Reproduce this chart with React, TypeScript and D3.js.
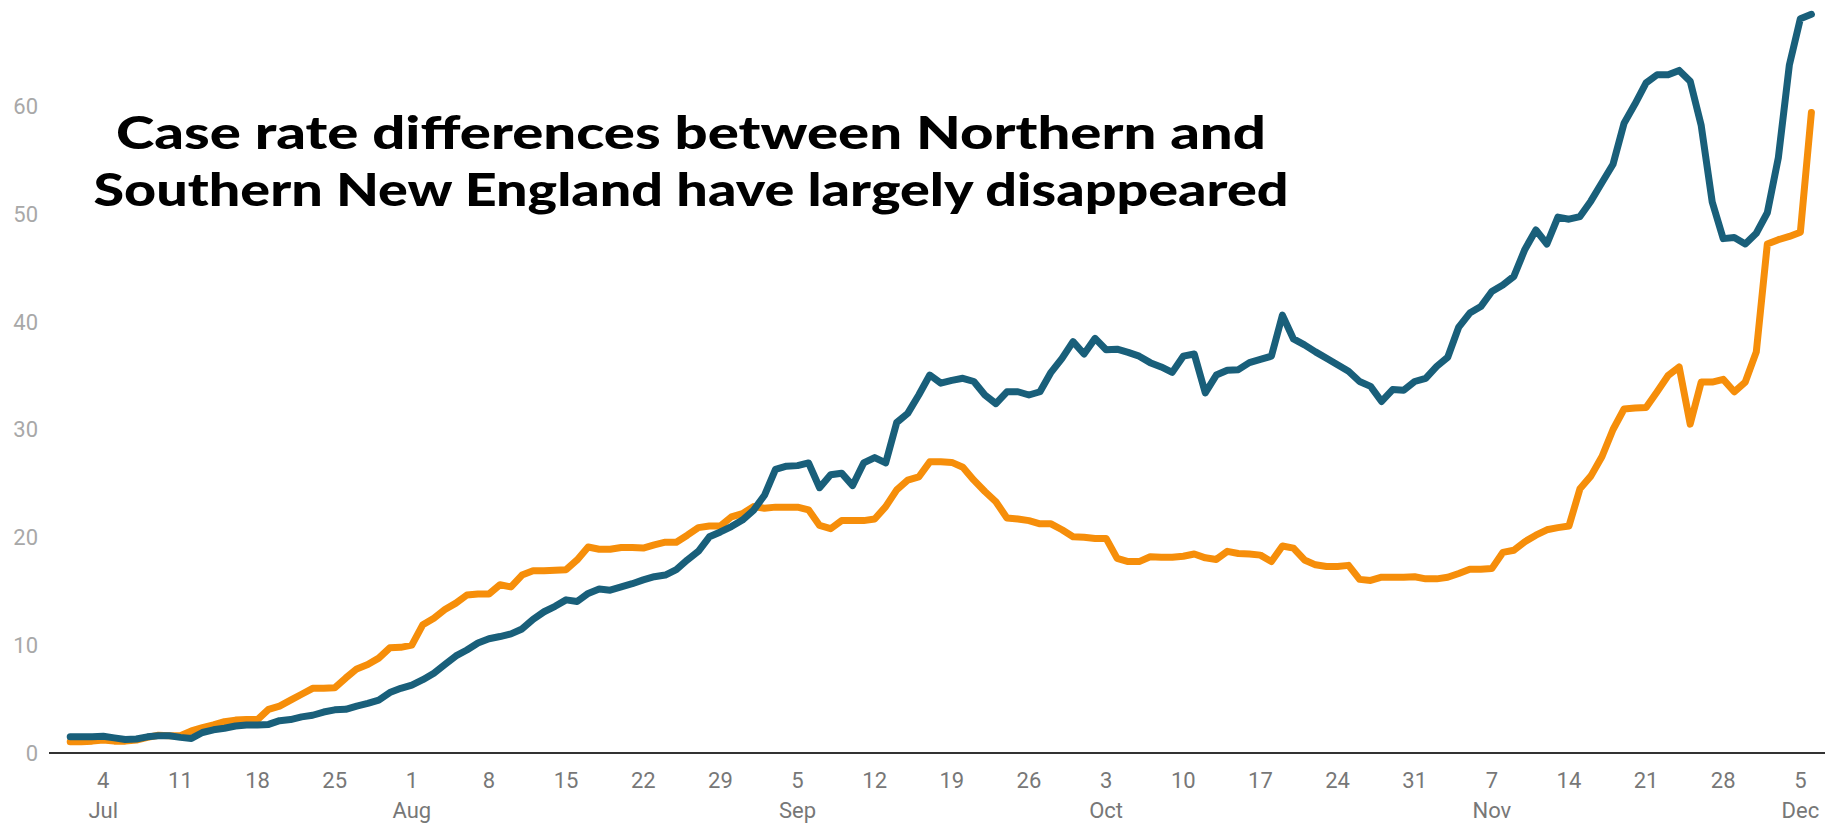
import React from 'react';
import * as d3 from 'd3';

const DAY_MS = 86400000;
const startDate = Date.UTC(2020, 6, 1);
const endDate = Date.UTC(2020, 11, 6);

// Daily values, Jul 1 – Dec 6 2020
const blueValues = [
  1.5, 1.5, 1.5, 1.55, 1.4, 1.25, 1.3, 1.5, 1.6, 1.6,
  1.45, 1.35, 1.9, 2.15, 2.3, 2.5, 2.6, 2.6, 2.65, 3.0,
  3.1, 3.35, 3.5, 3.8, 4.0, 4.05, 4.35, 4.6, 4.9, 5.6,
  6.0, 6.3, 6.8, 7.4, 8.2, 9.0, 9.55, 10.2, 10.6, 10.8,
  11.05, 11.5, 12.4, 13.1, 13.6, 14.2, 14.05, 14.8, 15.2, 15.1,
  15.4, 15.7, 16.05, 16.35, 16.5, 17.0, 17.9, 18.7, 20.05, 20.5,
  21.0, 21.6, 22.5, 23.9, 26.3, 26.6, 26.65, 26.9, 24.6, 25.8,
  25.95, 24.8, 26.9, 27.4, 26.9, 30.65, 31.5, 33.2, 35.05, 34.3,
  34.55, 34.75, 34.45, 33.2, 32.4, 33.5, 33.5, 33.2, 33.5, 35.3,
  36.6, 38.15, 37.0, 38.45, 37.4, 37.45, 37.15, 36.8, 36.2, 35.8,
  35.3, 36.8, 37.0, 33.4, 35.05, 35.5, 35.55, 36.2, 36.5, 36.8,
  40.6, 38.4, 37.85, 37.2, 36.6, 36.0, 35.4, 34.45, 34.0, 32.6,
  33.7, 33.65, 34.45, 34.75, 35.85, 36.7, 39.5, 40.8, 41.4, 42.8,
  43.4, 44.2, 46.7, 48.5, 47.2, 49.7, 49.5, 49.75, 51.2, 52.9,
  54.6, 58.4, 60.2, 62.15, 62.9, 62.9, 63.3, 62.3, 58.2, 51.1,
  47.7, 47.8, 47.2, 48.2, 50.1, 55.2, 63.8, 68.1, 68.5,
];

const orangeValues = [
  1.05, 1.05, 1.1, 1.2, 1.1, 1.1, 1.2, 1.45, 1.65, 1.6,
  1.6, 2.05, 2.35, 2.6, 2.9, 3.05, 3.1, 3.1, 4.05, 4.35,
  4.9, 5.45, 6.0, 6.0, 6.05, 6.95, 7.8, 8.2, 8.8, 9.75,
  9.8, 10.0, 11.9, 12.5, 13.3, 13.9, 14.65, 14.75, 14.75, 15.6,
  15.4, 16.5, 16.9, 16.9, 16.95, 17.0, 17.9, 19.1, 18.9, 18.9,
  19.05, 19.05, 19.0, 19.3, 19.55, 19.55, 20.2, 20.9, 21.05, 21.05,
  21.9, 22.2, 22.85, 22.7, 22.8, 22.8, 22.8, 22.55, 21.1, 20.8,
  21.55, 21.55, 21.55, 21.7, 22.85, 24.4, 25.3, 25.6, 27.0, 27.0,
  26.95, 26.5, 25.3, 24.25, 23.3, 21.8, 21.7, 21.55, 21.25, 21.25,
  20.7, 20.05, 20.0, 19.9, 19.9, 18.05, 17.75, 17.75, 18.2, 18.15,
  18.15, 18.25, 18.45, 18.1, 17.95, 18.7, 18.5, 18.45, 18.35, 17.75,
  19.2, 19.0, 17.9, 17.45, 17.3, 17.3, 17.4, 16.1, 16.0, 16.3,
  16.3, 16.3, 16.35, 16.15, 16.15, 16.3, 16.65, 17.05, 17.05, 17.1,
  18.6, 18.8, 19.6, 20.2, 20.7, 20.9, 21.05, 24.5, 25.7, 27.5,
  30.0, 31.9, 32.0, 32.05, 33.5, 35.0, 35.8, 30.5, 34.4, 34.4,
  34.65, 33.5, 34.4, 37.2, 47.2, 47.6, 47.9, 48.3, 59.4,
];

const yTicks = [0, 10, 20, 30, 40, 50, 60];

const xTickDates = [
  '2020-07-04', '2020-07-11', '2020-07-18', '2020-07-25', '2020-08-01',
  '2020-08-08', '2020-08-15', '2020-08-22', '2020-08-29', '2020-09-05',
  '2020-09-12', '2020-09-19', '2020-09-26', '2020-10-03', '2020-10-10',
  '2020-10-17', '2020-10-24', '2020-10-31', '2020-11-07', '2020-11-14',
  '2020-11-21', '2020-11-28', '2020-12-05',
];
const monthLabelDates = ['2020-07-04', '2020-08-01', '2020-09-05', '2020-10-03', '2020-11-07', '2020-12-05'];

const titleLines = [
  'Case rate differences between Northern and',
  'Southern New England have largely disappeared',
];

const BLUE = '#195f7a';
const ORANGE = '#f68e0a';

export default function App() {
  const x = d3
    .scaleUtc()
    .domain([new Date(startDate), new Date(endDate)])
    .range([70.2, 1811.4]);
  const y = d3.scaleLinear().domain([0, 60]).range([753, 106]);

  const lineGen = d3
    .line<number>()
    .x((_, i) => x(new Date(startDate + i * DAY_MS)))
    .y((v) => y(v))
    .curve(d3.curveLinear);

  const parse = d3.utcParse('%Y-%m-%d');
  const dayFmt = d3.utcFormat('%-d');
  const monFmt = d3.utcFormat('%b');

  return (
    <svg
      width={1825}
      height={824}
      style={{ position: 'fixed', left: 0, top: 0, background: '#fff' }}
    >
      <rect x={0} y={0} width={1825} height={824} fill="#fff" />
      {yTicks.map((t) => (
        <text
          key={t}
          x={38}
          y={y(t)}
          dy="0.36em"
          textAnchor="end"
          fontFamily="Roboto, sans-serif"
          fontSize={22}
          fill="#a8a8a8"
        >
          {t}
        </text>
      ))}
      <line x1={49} x2={1825} y1={y(0)} y2={y(0)} stroke="#333" strokeWidth={2} />
      {xTickDates.map((s) => {
        const dt = parse(s)!;
        return (
          <text
            key={s}
            x={x(dt)}
            y={788}
            textAnchor="middle"
            fontFamily="Roboto, sans-serif"
            fontSize={22}
            fill="#777"
          >
            {dayFmt(dt)}
          </text>
        );
      })}
      {monthLabelDates.map((s) => {
        const dt = parse(s)!;
        return (
          <text
            key={'m' + s}
            x={x(dt)}
            y={818}
            textAnchor="middle"
            fontFamily="Roboto, sans-serif"
            fontSize={22}
            fill="#777"
          >
            {monFmt(dt)}
          </text>
        );
      })}
      <path
        d={lineGen(orangeValues) || ''}
        fill="none"
        stroke={ORANGE}
        strokeWidth={7}
        strokeLinejoin="round"
        strokeLinecap="round"
      />
      <path
        d={lineGen(blueValues) || ''}
        fill="none"
        stroke={BLUE}
        strokeWidth={7}
        strokeLinejoin="round"
        strokeLinecap="round"
      />
      <text
        x={691}
        y={149}
        textAnchor="middle"
        fontFamily="Lato, sans-serif"
        fontWeight={900}
        fontSize={46}
        fill="#000"
        textLength={1150}
        lengthAdjust="spacingAndGlyphs"
      >
        {titleLines[0]}
      </text>
      <text
        x={691}
        y={206}
        textAnchor="middle"
        fontFamily="Lato, sans-serif"
        fontWeight={900}
        fontSize={46}
        fill="#000"
        textLength={1195}
        lengthAdjust="spacingAndGlyphs"
      >
        {titleLines[1]}
      </text>
    </svg>
  );
}
